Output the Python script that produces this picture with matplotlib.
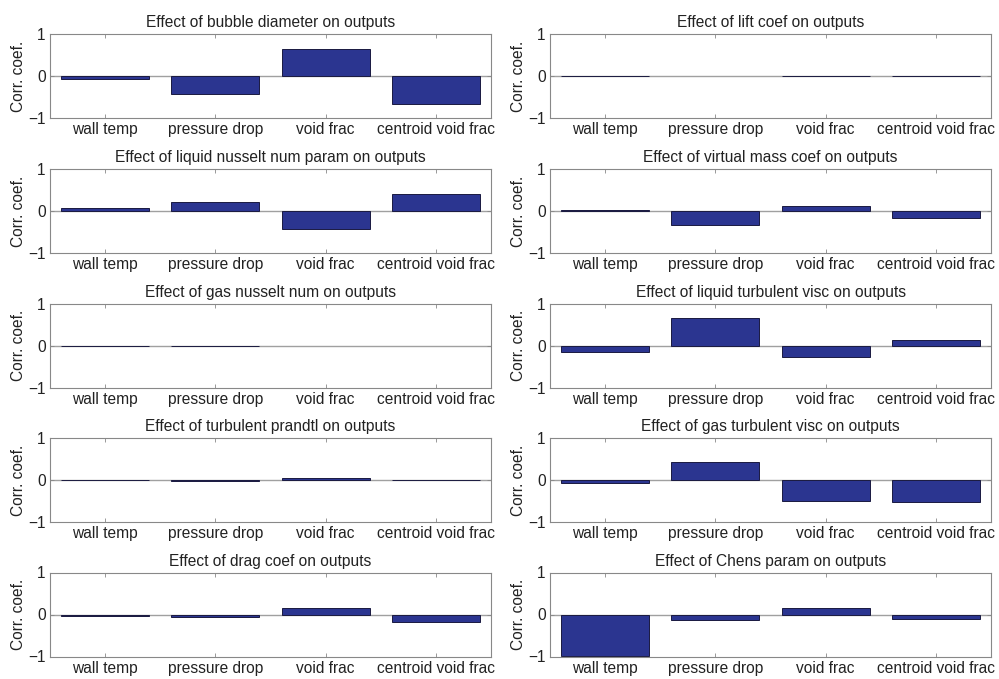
import matplotlib
matplotlib.use("Agg")
import matplotlib.pyplot as plt
import numpy as np

plt.rcParams['font.family'] = ['Liberation Sans', 'DejaVu Sans']

outputs = ["wall temp", "pressure drop", "void frac", "centroid void frac"]

titles = [
    "Effect of bubble diameter on outputs",
    "Effect of lift coef on outputs",
    "Effect of liquid nusselt num param on outputs",
    "Effect of virtual mass coef on outputs",
    "Effect of gas nusselt num on outputs",
    "Effect of liquid turbulent visc on outputs",
    "Effect of turbulent prandtl on outputs",
    "Effect of gas turbulent visc on outputs",
    "Effect of drag coef on outputs",
    "Effect of Chens param on outputs",
]

bubble_diameter = [-0.06, -0.42, 0.64, -0.67]
lift_coef = [0.01, 0.0, -0.01, -0.01]
liquid_nusselt = [0.06, 0.21, -0.43, 0.40]
virtual_mass = [0.03, -0.33, 0.12, -0.17]
gas_nusselt = [-0.01, -0.005, 0.0, 0.0]
liquid_turb_visc = [-0.15, 0.65, -0.28, 0.12]
turb_prandtl = [0.01, -0.02, 0.04, -0.01]
gas_turb_visc = [-0.06, 0.43, -0.51, -0.52]
drag_coef = [-0.04, -0.05, 0.15, -0.17]
chens_param = [-0.98, -0.12, 0.15, -0.10]

series = [bubble_diameter, lift_coef, liquid_nusselt, virtual_mass, gas_nusselt,
          liquid_turb_visc, turb_prandtl, gas_turb_visc, drag_coef, chens_param]

W, H = 999, 679
fig = plt.figure(figsize=(W / 100, H / 100), dpi=100)

col_left = [50, 550]
col_width = 441
row_tops = [34, 169, 303.5, 438, 572.5]
row_h = 84

bar_color = "#2b3590"
axis_color = "#888888"
text_color = "#222222"
fs = 11.2

for i, (title, vals) in enumerate(zip(titles, series)):
    r, c = divmod(i, 2)
    l = col_left[c] / W
    b = 1 - (row_tops[r] + row_h) / H
    ax = fig.add_axes([l, b, col_width / W, row_h / H])
    x = np.arange(1, len(outputs) + 1)
    edges = ["#1a1a40" if v != 0 else "none" for v in vals]
    ax.axhline(0, color="#a0a0a0", linewidth=1.0, zorder=1)
    ax.bar(x, vals, width=0.8, color=bar_color, edgecolor=edges, linewidth=0.7, zorder=2)
    ax.set_xlim(0.5, 4.5)
    ax.set_ylim(-1, 1)
    ax.set_xticks(x)
    ax.set_xticklabels(outputs, fontsize=fs, color=text_color)
    ax.set_yticks([-1, 0, 1])
    ax.set_yticklabels(["\u22121", "0", "1"], fontsize=fs, color=text_color)
    ax.tick_params(direction="in", length=3, width=0.6, color=axis_color,
                   top=True, right=True, pad=3)
    for sp in ax.spines.values():
        sp.set_color(axis_color)
        sp.set_linewidth(0.8)
    ax.set_ylabel("Corr. coef.", fontsize=fs, labelpad=2, color=text_color)
    ax.set_title(title, fontsize=fs, pad=5, color=text_color)

fig.savefig("out.png", dpi=100)
